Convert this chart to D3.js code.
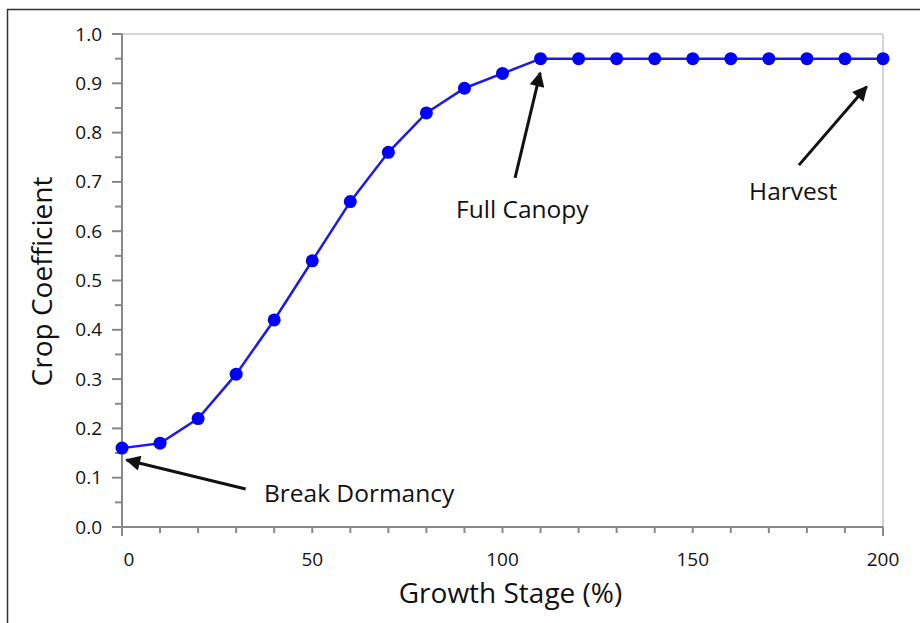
<!DOCTYPE html>
<html>
<head>
<meta charset="utf-8">
<script src="https://cdn.jsdelivr.net/npm/d3@7"></script>
<style>
  body { margin: 0; background: #fff; }
  svg { display: block; font-family: "Open Sans", "Lato", sans-serif; }
</style>
</head>
<body>
<svg id="chart" width="920" height="623"></svg>
<script>
// growth stage (%) vs crop coefficient
const growthStage = [0, 10, 20, 30, 40, 50, 60, 70, 80, 90, 100,
                     110, 120, 130, 140, 150, 160, 170, 180, 190, 200];
const cropCoef = [0.16, 0.17, 0.22, 0.31, 0.42, 0.54, 0.66, 0.76, 0.84, 0.89, 0.92,
                  0.95, 0.95, 0.95, 0.95, 0.95, 0.95, 0.95, 0.95, 0.95, 0.95];
const xTicks = [0, 50, 100, 150, 200];
const yTicks = [0, 0.1, 0.2, 0.3, 0.4, 0.5, 0.6, 0.7, 0.8, 0.9, 1.0];

// annotations: label, text anchor, arrow tail and tip (data units)
const notes = [
  { label: "Break Dormancy", tx: 37.3, ty: 0.05, from: [32.5, 0.077], to: [1.2, 0.136] },
  { label: "Full Canopy",    tx: 87.8, ty: 0.627, from: [103.3, 0.708], to: [109.9, 0.921] },
  { label: "Harvest",        tx: 164.8, ty: 0.663, from: [177.9, 0.734], to: [195.7, 0.893] }
];

const svg = d3.select("#chart");

// outer frame, runs off the right and bottom edge
svg.append("rect")
  .attr("x", 7.5).attr("y", 9.5)
  .attr("width", 930).attr("height", 640)
  .attr("fill", "none").attr("stroke", "#333").attr("stroke-width", 1.5);

const x = d3.scaleLinear().domain([0, 200]).range([122, 883]);
const y = d3.scaleLinear().domain([0, 1]).range([527, 34]);

function makeLine(svg_obj, color, x1, y1, x2, y2, stroke_width) {
  return svg_obj.append("line")
    .attr("x1", x1).attr("y1", y1)
    .attr("x2", x2).attr("y2", y2)
    .attr("stroke", color)
    .attr("stroke-width", stroke_width);
}

function makeText(svg_obj, font_size, x, y, text_str, anchor) {
  return svg_obj.append("text")
    .attr("font-size", font_size)
    .attr("x", x).attr("y", y)
    .attr("text-anchor", anchor || "start")
    .attr("fill", "#111")
    .text(text_str);
}

// light top and right border of the plot
makeLine(svg, "#d4d4d4", x(0), y(1), x(200), y(1), 2);
makeLine(svg, "#d4d4d4", x(200), y(1), x(200), y(0), 2);

// y axis with minor ticks
makeLine(svg, "#888", x(0), y(0) + 9, x(0), y(1), 2);
d3.range(0, 21).forEach(i => {
  const v = i * 0.05;
  const len = i % 2 === 0 ? 10 : 7;
  makeLine(svg, "#888", x(0) - len, y(v), x(0), y(v), 2);
});
yTicks.forEach(v => {
  makeText(svg, 19, 102, y(v) + 6.5, v.toFixed(1), "end");
});

// x axis with minor ticks
makeLine(svg, "#888", x(0) - 10, y(0), x(200), y(0), 2);
d3.range(0, 201, 10).forEach(v => {
  const len = v === 0 || v === 200 ? 9 : 6;
  makeLine(svg, "#888", x(v), y(0), x(v), y(0) + len, 2);
});
xTicks.forEach(v => {
  makeText(svg, 19, x(v) + (v === 0 ? 7 : 0), 566, String(v), "middle");
});

// axis titles
makeText(svg, 28, (x(0) + x(200)) / 2 + 8, 603, "Growth Stage (%)", "middle");
svg.append("text")
  .attr("font-size", 28)
  .attr("fill", "#111")
  .attr("text-anchor", "middle")
  .attr("transform", `translate(52,${(y(0) + y(1)) / 2 + 1}) rotate(270)`)
  .text("Crop Coefficient");

// data line and points
const line = d3.line().x((d, i) => x(growthStage[i])).y(d => y(d));
svg.append("path")
  .datum(cropCoef)
  .attr("d", line)
  .attr("fill", "none")
  .attr("stroke", "#1a1aee")
  .attr("stroke-width", 2.5);
svg.selectAll("circle.pt")
  .data(cropCoef)
  .join("circle")
  .attr("class", "pt")
  .attr("cx", (d, i) => x(growthStage[i]))
  .attr("cy", d => y(d))
  .attr("r", 6.5)
  .attr("fill", "#0000ff");

// arrow heads
svg.append("defs").append("marker")
  .attr("id", "head")
  .attr("viewBox", "0 0 10 10")
  .attr("refX", 9).attr("refY", 5)
  .attr("markerWidth", 6).attr("markerHeight", 5)
  .attr("markerUnits", "strokeWidth")
  .attr("orient", "auto")
  .append("path")
  .attr("d", "M0,0 L10,5 L0,10 Z")
  .attr("fill", "#111");

notes.forEach(n => {
  svg.append("line")
    .attr("x1", x(n.from[0])).attr("y1", y(n.from[1]))
    .attr("x2", x(n.to[0])).attr("y2", y(n.to[1]))
    .attr("stroke", "#111")
    .attr("stroke-width", 3)
    .attr("marker-end", "url(#head)");
  makeText(svg, 24.5, x(n.tx), y(n.ty), n.label, "start");
});
</script>
</body>
</html>
